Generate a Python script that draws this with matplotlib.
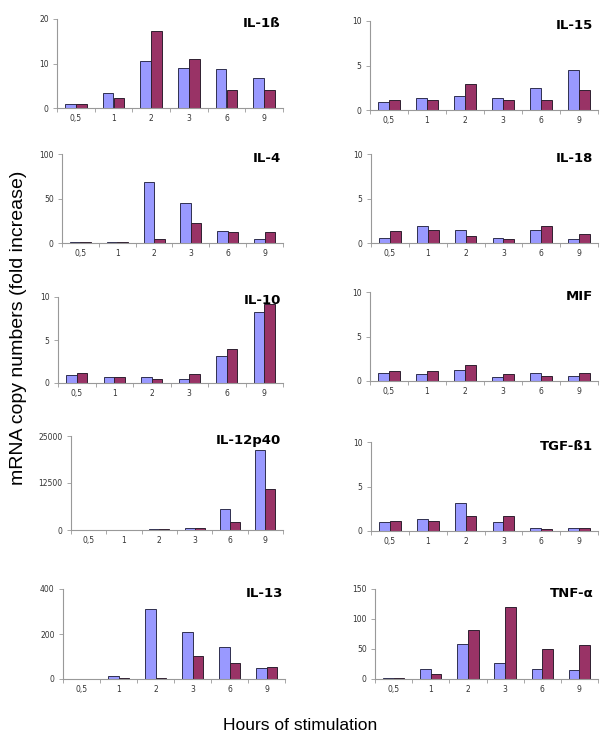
import numpy as np
import matplotlib.pyplot as plt

hours = ['0,5', '1', '2', '3', '6', '9']

il1b_a = [0.9, 3.4, 10.5, 9.0, 8.7, 6.7]
il1b_b = [1.0, 2.3, 17.2, 11.0, 4.1, 4.0]
il15_a = [0.9, 1.3, 1.6, 1.3, 2.5, 4.5]
il15_b = [1.1, 1.1, 2.9, 1.1, 1.1, 2.2]
il4_a = [0.8, 1.5, 68, 45, 14, 4.5]
il4_b = [1.0, 1.2, 4, 22.5, 12.5, 12.5]
il18_a = [0.6, 1.9, 1.5, 0.6, 1.5, 0.4]
il18_b = [1.4, 1.5, 0.8, 0.4, 1.9, 1.0]
il10_a = [0.9, 0.7, 0.65, 0.45, 3.1, 8.2]
il10_b = [1.2, 0.7, 0.5, 1.0, 4.0, 9.2]
mif_a = [0.9, 0.8, 1.25, 0.45, 0.95, 0.6]
mif_b = [1.1, 1.1, 1.85, 0.8, 0.55, 0.95]
il12_a = [40, 40, 200, 400, 5550, 21400]
il12_b = [40, 40, 200, 450, 2100, 10900]
tgf_a = [0.97, 1.3, 3.1, 1.05, 0.37, 0.3]
tgf_b = [1.08, 1.08, 1.68, 1.68, 0.22, 0.3]
il13_a = [2, 12, 312, 209, 142, 49]
il13_b = [2, 6, 5, 101, 71, 53]
tnf_a = [1.5, 16.7, 57.8, 26, 16.7, 15.6]
tnf_b = [1.5, 7.8, 81.7, 120.6, 50, 56.7]

titles = ['IL-1ß', 'IL-15', 'IL-4', 'IL-18', 'IL-10', 'MIF',
          'IL-12p40', 'TGF-ß1', 'IL-13', 'TNF-α']
series_a = [il1b_a, il15_a, il4_a, il18_a, il10_a, mif_a, il12_a, tgf_a, il13_a, tnf_a]
series_b = [il1b_b, il15_b, il4_b, il18_b, il10_b, mif_b, il12_b, tgf_b, il13_b, tnf_b]
ymax = [20, 10, 100, 10, 10, 10, 25000, 10, 400, 150]
yticks = [[0, 10, 20], [0, 5, 10], [0, 50, 100], [0, 5, 10], [0, 5, 10],
          [0, 5, 10], [0, 12500, 25000], [0, 5, 10], [0, 200, 400], [0, 50, 100, 150]]

# panel boxes in pixels: left, right, top, bottom
boxes = [(57, 283, 19, 108), (370, 598, 21, 110),
         (62, 283, 154, 243), (371, 598, 154, 243),
         (58, 283, 297, 383), (370, 598, 292, 381),
         (71, 283, 436, 530), (371, 598, 442, 531),
         (63, 285, 589, 679), (375, 598, 589, 679)]

W, H = 600, 744
fig = plt.figure(figsize=(6, 7.44), dpi=100)

blue = '#9999ff'
red = '#993366'
x = np.arange(len(hours))
w = 0.286

for i in range(10):
    l, r, t, b = boxes[i]
    ax = fig.add_axes([l / W, 1 - b / H, (r - l) / W, (b - t) / H])
    ax.bar(x - w / 2, series_a[i], width=w, color=blue, edgecolor='#303050', linewidth=0.7)
    ax.bar(x + w / 2, series_b[i], width=w, color=red, edgecolor='#302030', linewidth=0.7)
    ax.set_xlim(-0.5, len(hours) - 0.5)
    ax.set_ylim(0, ymax[i])
    ax.set_yticks(yticks[i])
    ax.set_yticklabels([str(v) for v in yticks[i]])
    ax.set_xticks(np.arange(len(hours) + 1) - 0.5)
    ax.set_xticklabels([])
    ax.set_xticks(x, minor=True)
    ax.set_xticklabels(hours, minor=True)
    ax.tick_params(axis='x', which='major', length=3, width=0.6, color='#999999', direction='out')
    ax.tick_params(axis='x', which='minor', length=0, labelsize=5.5, pad=4, labelcolor='#333333')
    ax.tick_params(axis='y', length=3, width=0.6, color='#999999', labelsize=5.5,
                   labelcolor='#333333', pad=3)
    for s in ['top', 'right']:
        ax.spines[s].set_visible(False)
    for s in ['left', 'bottom']:
        ax.spines[s].set_color('#999999')
        ax.spines[s].set_linewidth(0.8)
    ax.text(0.99 if i % 2 == 0 else 0.98, 0.955, titles[i], transform=ax.transAxes,
            ha='right', va='center', fontsize=9.5, fontweight='bold')

fig.text(19 / W, 1 - 328 / H, 'mRNA copy numbers (fold increase)', rotation=90,
         ha='center', va='center', fontsize=14, family='Liberation Sans')
fig.text(300 / W, 1 - 726 / H, 'Hours of stimulation', ha='center', va='center',
         fontsize=12.5, family='Liberation Sans')

fig.savefig('out.png', dpi=100)
